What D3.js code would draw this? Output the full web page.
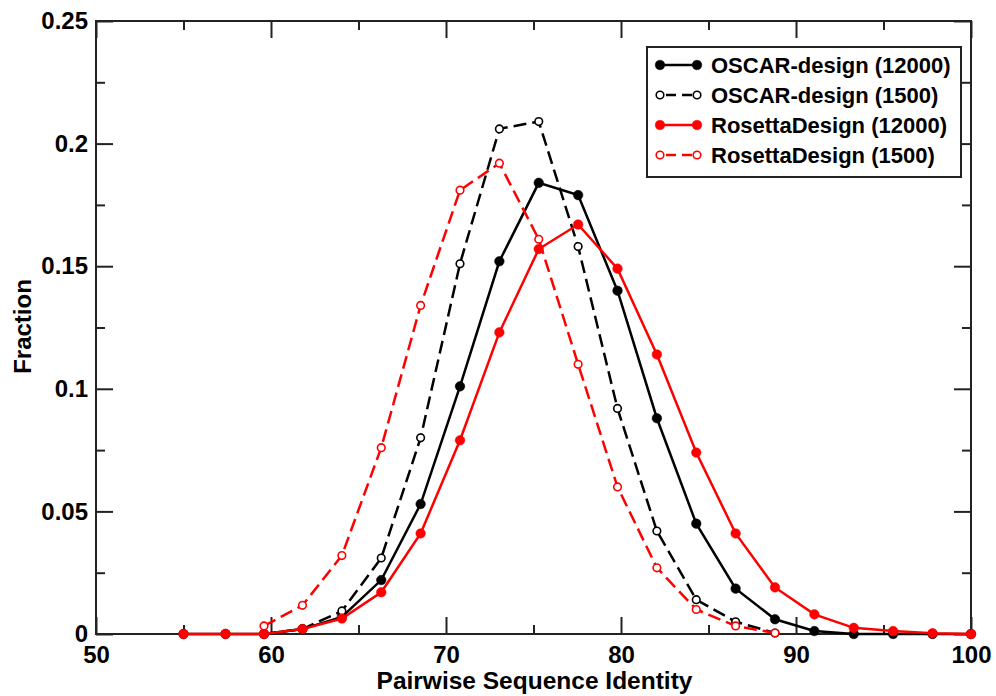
<!DOCTYPE html>
<html>
<head>
<meta charset="utf-8">
<script src="https://cdn.jsdelivr.net/npm/d3@7"></script>
<style>
  html, body { margin: 0; padding: 0; background: #fff; }
  svg { display: block; font-family: "Liberation Sans", Arial, Helvetica, sans-serif; font-weight: bold; }
</style>
</head>
<body>
<svg id="chart" width="996" height="696"></svg>
<script>
// ---- data ----
const identity = [55, 57.4, 59.6, 61.8, 64.05, 66.3, 68.55, 70.8, 73.05, 75.3, 77.55, 79.8, 82.05, 84.3, 86.55, 88.8, 91.05, 93.3, 95.55, 97.8, 100];
const oscar12000 = [0, 0, 0, 0.002, 0.007, 0.022, 0.053, 0.101, 0.152, 0.184, 0.179, 0.140, 0.088, 0.045, 0.0185, 0.006, 0.0012, 0, 0, 0, 0];
const oscar1500 = [null, null, 0, 0.002, 0.0094, 0.031, 0.080, 0.151, 0.206, 0.209, 0.158, 0.092, 0.042, 0.014, 0.005, 0.0004, null, null, null, null, null];
const rosetta12000 = [0, 0, 0, 0.002, 0.0063, 0.017, 0.041, 0.079, 0.123, 0.157, 0.167, 0.149, 0.114, 0.074, 0.041, 0.019, 0.008, 0.0025, 0.0012, 0.0003, 0];
const rosetta1500 = [null, null, 0.0033, 0.0117, 0.032, 0.076, 0.134, 0.181, 0.192, 0.161, 0.110, 0.060, 0.027, 0.010, 0.0033, 0.0004, null, null, null, null, null];

const seriesNames = ["OSCAR-design (12000)", "OSCAR-design (1500)", "RosettaDesign (12000)", "RosettaDesign (1500)"];
const seriesValues = [oscar12000, oscar1500, rosetta12000, rosetta1500];
const seriesColors = ["#000000", "#000000", "#ff0000", "#ff0000"];
const seriesFilled = [true, false, true, false];
const seriesDashed = [false, true, false, true];

const xTicks = [50, 60, 70, 80, 90, 100];
const xTickLabels = ["50", "60", "70", "80", "90", "100"];
const xMinorTicks = [55, 65, 75, 85, 95];
const yTicks = [0, 0.05, 0.1, 0.15, 0.2, 0.25];
const yTickLabels = ["0", "0.05", "0.1", "0.15", "0.2", "0.25"];
const yMinorTicks = [0.025, 0.075, 0.125, 0.175, 0.225];

const xTitle = "Pairwise Sequence Identity";
const yTitle = "Fraction";

// ---- layout ----
const L = 96, R = 971, T = 21, B = 634;
const svg = d3.select("#chart");
const x = d3.scaleLinear().domain([50, 100]).range([L, R]);
const y = d3.scaleLinear().domain([0, 0.25]).range([B, T]);

const MAJ = 17, MIN = 9;
const fontTick = "24px";

function styleAxis(g) {
  g.select(".domain").remove();
  g.selectAll(".tick line").attr("stroke", "#222").attr("stroke-width", 2);
  g.selectAll(".tick text").attr("fill", "#000").style("font-size", fontTick)
    .style("font-weight", "bold").style("font-family", "'Liberation Sans', Arial, sans-serif");
}

// bottom major
svg.append("g").attr("transform", `translate(0,${B})`)
  .call(d3.axisBottom(x).tickValues(xTicks).tickFormat((d, i) => xTickLabels[i]).tickSize(-MAJ).tickPadding(12))
  .call(styleAxis);
// bottom minor
svg.append("g").attr("transform", `translate(0,${B})`)
  .call(d3.axisBottom(x).tickValues(xMinorTicks).tickFormat("").tickSize(-MIN))
  .call(styleAxis);
// top
svg.append("g").attr("transform", `translate(0,${T})`)
  .call(d3.axisTop(x).tickValues(xTicks).tickFormat("").tickSize(-MAJ))
  .call(styleAxis);
svg.append("g").attr("transform", `translate(0,${T})`)
  .call(d3.axisTop(x).tickValues(xMinorTicks).tickFormat("").tickSize(-MIN))
  .call(styleAxis);
// left
svg.append("g").attr("transform", `translate(${L},0)`)
  .call(d3.axisLeft(y).tickValues(yTicks).tickFormat((d, i) => yTickLabels[i]).tickSize(-MAJ).tickPadding(8))
  .call(styleAxis);
svg.append("g").attr("transform", `translate(${L},0)`)
  .call(d3.axisLeft(y).tickValues(yMinorTicks).tickFormat("").tickSize(-MIN))
  .call(styleAxis);
// right
svg.append("g").attr("transform", `translate(${R},0)`)
  .call(d3.axisRight(y).tickValues(yTicks).tickFormat("").tickSize(-MAJ))
  .call(styleAxis);
svg.append("g").attr("transform", `translate(${R},0)`)
  .call(d3.axisRight(y).tickValues(yMinorTicks).tickFormat("").tickSize(-MIN))
  .call(styleAxis);

// frame
svg.append("rect").attr("x", L).attr("y", T).attr("width", R - L).attr("height", B - T)
  .attr("fill", "none").attr("stroke", "#222").attr("stroke-width", 2);

// ---- series ----
const line = d3.line()
  .defined(d => d.v !== null)
  .x(d => x(d.x)).y(d => y(d.v));

seriesValues.forEach((vals, si) => {
  const pts = identity.map((xv, i) => ({ x: xv, v: vals[i] }));
  const g = svg.append("g");
  g.append("path").datum(pts)
    .attr("d", line)
    .attr("fill", "none")
    .attr("stroke", seriesColors[si])
    .attr("stroke-width", 2.5)
    .attr("stroke-dasharray", seriesDashed[si] ? "13,6" : null);
  g.selectAll("circle").data(pts.filter(d => d.v !== null)).join("circle")
    .attr("cx", d => x(d.x)).attr("cy", d => y(d.v))
    .attr("r", seriesFilled[si] ? 4.8 : 3.8)
    .attr("fill", seriesFilled[si] ? seriesColors[si] : "#fff")
    .attr("stroke", seriesColors[si])
    .attr("stroke-width", seriesFilled[si] ? 0.5 : 1.6);
});

// ---- legend ----
const lg = svg.append("g");
lg.append("rect").attr("x", 647).attr("y", 47).attr("width", 314).attr("height", 130)
  .attr("fill", "#fff").attr("stroke", "#222").attr("stroke-width", 2);
seriesNames.forEach((name, si) => {
  const cy = 65 + si * 30;
  const x0 = 660, x1 = 697;
  lg.append("line").attr("x1", x0).attr("x2", x1).attr("y1", cy).attr("y2", cy)
    .attr("stroke", seriesColors[si]).attr("stroke-width", 2.5)
    .attr("stroke-dasharray", seriesDashed[si] ? "0,6,10,6,10,6" : null);
  [x0, x1].forEach(cx => {
    lg.append("circle").attr("cx", cx).attr("cy", cy)
      .attr("r", seriesFilled[si] ? 4.8 : 3.8)
      .attr("fill", seriesFilled[si] ? seriesColors[si] : "#fff")
      .attr("stroke", seriesColors[si])
      .attr("stroke-width", seriesFilled[si] ? 0.5 : 1.6);
  });
  lg.append("text").attr("x", 711).attr("y", cy).attr("dy", "0.36em")
    .style("font-size", "22px").attr("fill", "#000").text(name);
});

// ---- titles ----
svg.append("text").attr("x", (L + R) / 2 + 1).attr("y", 689)
  .attr("text-anchor", "middle").style("font-size", "24.5px").attr("fill", "#000").text(xTitle);
svg.append("text").attr("transform", `translate(31,${(T + B) / 2 - 1}) rotate(-90)`)
  .attr("text-anchor", "middle").style("font-size", "24px").attr("fill", "#000").text(yTitle);
</script>
</body>
</html>
